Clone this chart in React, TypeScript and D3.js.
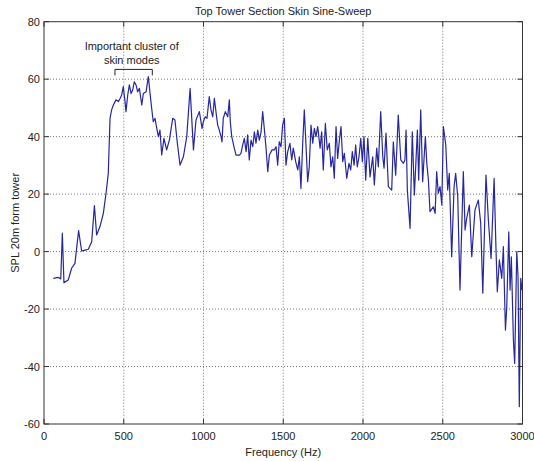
import React from "react";
import * as d3 from "d3";

const title = "Top Tower Section Skin Sine-Sweep";
const xLabel = "Frequency (Hz)";
const yLabel = "SPL 20m form tower";
const xTicks = [0, 500, 1000, 1500, 2000, 2500, 3000];
const yTicks = [-60, -40, -20, 0, 20, 40, 60, 80];
const annotationLines = ["Important cluster of", "skin modes"];
const bracket = { from: 445, to: 679, top: 63.4, bottom: 61.3 };

const freq = [
  58, 90, 105, 115, 125, 152, 173, 194, 217, 236, 257, 278, 299, 316, 330, 351, 372, 389, 403,
  414, 424, 435, 451, 466, 477, 487, 497, 508, 514, 525, 535, 546, 556, 566, 577, 587, 598, 613, 623, 640, 654, 665, 675, 685, 696, 707, 717,
  727, 738, 752, 769, 786, 807, 821, 836, 853, 874, 895, 916, 937, 953,
  974, 991, 999, 1011, 1022, 1036, 1047, 1058, 1068, 1078, 1089, 1099, 1110, 1116, 1124, 1137, 1152, 1162, 1168, 1177,
  1193, 1204, 1225, 1235, 1246, 1256, 1267, 1277, 1287, 1298, 1309, 1319, 1329, 1340, 1350, 1361, 1371, 1381, 1392, 1403,
  1413, 1430, 1444, 1455, 1465, 1475, 1486, 1496, 1507, 1517, 1528,
  1542, 1553, 1563, 1578, 1591, 1601, 1611, 1622, 1632, 1643,
  1653, 1663, 1674, 1685, 1695, 1705, 1716, 1731, 1741, 1751, 1764, 1776, 1789, 1799, 1810, 1820, 1831, 1841, 1852, 1862,
  1873, 1883, 1898, 1912, 1923, 1933, 1944, 1954, 1964, 1975, 1986, 1996, 2006, 2017, 2030, 2044, 2061, 2071, 2086, 2096,
  2111, 2124, 2132, 2144, 2159, 2180, 2190, 2205, 2221, 2237, 2253, 2263, 2270, 2278, 2295, 2309, 2322, 2341, 2349, 2362,
  2374, 2391, 2400, 2410, 2420, 2441, 2452, 2462, 2472, 2483, 2494, 2504, 2519, 2531, 2541, 2556, 2571, 2581, 2594, 2608,
  2629, 2640, 2650, 2667, 2682, 2702, 2723, 2738, 2751, 2771, 2786, 2803, 2822, 2834, 2842, 2855, 2870, 2880, 2893, 2901,
  2914, 2922, 2930, 2943, 2951, 2964, 2972, 2980, 2989, 2997,
];

const spl = [
  -9.3, -9, -9.5, 6.4, -10.8, -9.9, -5.8, -4.1, 7.3, 0.2, 0.5, 0.8, 3.4, 16, 5.8, 8.7, 13.3, 20.3, 27.2,
  46.4, 49.3, 51, 52.8, 52.2, 53.3, 54.5, 57.4, 52.2, 48.7, 54.5, 58, 55, 56.2, 59.1, 58, 55.6, 56.8, 51, 55, 55.6, 60.9, 55, 49.9, 45.2, 46.4, 42.9, 40,
  42.3, 33.6, 39.4, 35.4, 38.8, 46.4, 45.8, 37.7, 30.1, 33, 40, 56.8, 35.4, 45.8,
  48.7, 42.9, 45.2, 46.9, 46.4, 53.9, 49.3, 46.9, 53.3, 48.7, 44, 42.3, 40, 38.2, 46.4, 48.7, 46.9, 52.8, 45.2, 40,
  36, 33.6, 33.6, 34.2, 37.1, 39.4, 34.8, 40.6, 31.9, 38.8, 36.5, 41.7, 37.7, 42.3, 38.8, 41.7, 48.7, 42.9, 36, 27.8,
  33.6, 35.4, 35.4, 36.5, 30.1, 38.2, 36.5, 44, 46.4, 30.1, 34.8,
  37.7, 31.9, 36, 31.3, 28.4, 33, 22, 37.7, 49.3, 36.5,
  24.3, 29.5, 44, 37.7, 42.9, 40, 43.5, 36, 41.7, 28.4, 44.6, 35.4, 37.7, 29.5, 33, 25.5, 43.5, 32.4, 38.8, 43.5,
  31.3, 34.2, 25.5, 30.7, 28.4, 34.8, 30.1, 37.1, 29.5, 33, 39.4, 31.3, 40, 24.9, 39.4, 26, 33, 23.2, 36, 29.5,
  48.7, 33, 29, 41.2, 22.6, 21.4, 38.2, 26.6, 47.5, 31.9, 30.7, 31.9, 42.3, 21.4, 8.1, 41.7, 19.7, 42.3, 24.9, 49.3,
  24.3, 40, 30.7, 24.9, 13.9, 15.6, 13.3, 27.8, 20.3, 22.6, 16.2, 43.5, 37.1, 21.4, 27.2, -1.8, 22.6, 27.2, 19.1, -13.4,
  27.8, 7.5, 11.6, 16.2, -1.8, 14.5, 17.9, 9.8, -14.5, 26.6, 11, -2.4, 25.5, 0.5, -14, -2.9, -9.3, 1.7, -27.3, -19.7,
  6.9, -13.4, -1.8, -30.8, -38.9, 0, -8.7, -54, -9.3, -13.4,
];

const W = 534;
const H = 461;
const left = 44;
const right = 522.5;
const top = 21.7;
const bottom = 424;
const font = "'Liberation Sans', Arial, sans-serif";

export default function App() {
  const x = d3.scaleLinear().domain([0, 3000]).range([left, right]);
  const y = d3.scaleLinear().domain([-60, 80]).range([bottom, top]);
  const pts: [number, number][] = freq.map((f, i) => [f, spl[i]]);
  const line = d3
    .line<[number, number]>()
    .x((d) => x(d[0]))
    .y((d) => y(d[1]));
  const axisColor = "#333";
  const gridColor = "#777";
  return (
    <div style={{ position: "fixed", left: 0, top: 0 }}>
      <svg width={W} height={H} style={{ display: "block", background: "#fff" }}>
        <rect x={0} y={0} width={W} height={H} fill="#fff" />
        {xTicks.slice(1, -1).map((t) => (
          <line key={"gx" + t} x1={x(t)} x2={x(t)} y1={top} y2={bottom} stroke={gridColor} strokeWidth={1} strokeDasharray="1,2" />
        ))}
        {yTicks.slice(1, -1).map((t) => (
          <line key={"gy" + t} x1={left} x2={right} y1={y(t)} y2={y(t)} stroke={gridColor} strokeWidth={1} strokeDasharray="1,2" />
        ))}
        <path d={line(pts) || ""} fill="none" stroke="#2626a0" strokeWidth={1.2} strokeLinejoin="round" />
        <rect x={left} y={top} width={right - left} height={bottom - top} fill="none" stroke={axisColor} strokeWidth={1} />
        {xTicks.map((t) => (
          <g key={"tx" + t}>
            <line x1={x(t)} x2={x(t)} y1={bottom} y2={bottom - 5} stroke={axisColor} />
            <line x1={x(t)} x2={x(t)} y1={top} y2={top + 5} stroke={axisColor} />
            <text x={x(t)} y={440} textAnchor="middle" fontFamily={font} fontSize={11} fill="#222">
              {t}
            </text>
          </g>
        ))}
        {yTicks.map((t) => (
          <g key={"ty" + t}>
            <line x1={left} x2={left + 5} y1={y(t)} y2={y(t)} stroke={axisColor} />
            <line x1={right} x2={right - 5} y1={y(t)} y2={y(t)} stroke={axisColor} />
            <text x={left - 4} y={y(t) + 4} textAnchor="end" fontFamily={font} fontSize={11} fill="#222">
              {t}
            </text>
          </g>
        ))}
        <text x={(left + right) / 2} y={15} textAnchor="middle" fontFamily={font} fontSize={11} fill="#222">
          {title}
        </text>
        <text x={(left + right) / 2} y={456} textAnchor="middle" fontFamily={font} fontSize={11} fill="#222">
          {xLabel}
        </text>
        <text
          transform={`translate(19, ${(top + bottom) / 2}) rotate(-90)`}
          textAnchor="middle"
          fontFamily={font}
          fontSize={11}
          fill="#222"
        >
          {yLabel}
        </text>
        {annotationLines.map((s, i) => (
          <text key={s} x={x(550)} y={50 + i * 14} textAnchor="middle" fontFamily={font} fontSize={11} fill="#222">
            {s}
          </text>
        ))}
        <path
          d={`M${x(bracket.from)},${y(bracket.bottom)}V${y(bracket.top)}H${x(bracket.to)}V${y(bracket.bottom)}`}
          fill="none"
          stroke="#222"
          strokeWidth={1}
        />
      </svg>
    </div>
  );
}
